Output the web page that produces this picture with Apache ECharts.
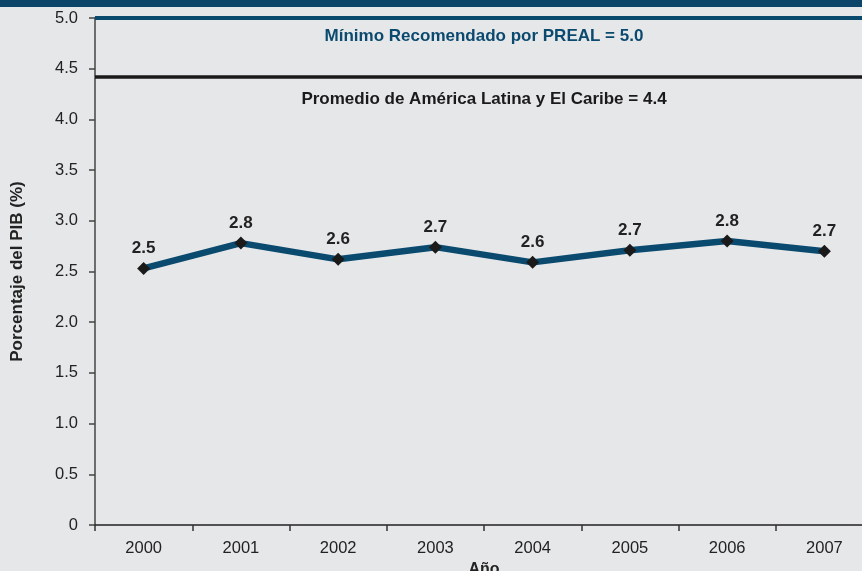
<!DOCTYPE html>
<html>
<head>
<meta charset="utf-8">
<script src="https://cdn.jsdelivr.net/npm/echarts@6/dist/echarts.min.js"></script>
<style>
  html, body { margin: 0; padding: 0; background: #e6e7e9; }
  #topbar { position: absolute; left: 0; top: 0; width: 862px; height: 7px; background: #0c4569; }
  #chart { width: 862px; height: 571px; }
</style>
</head>
<body>
<div id="chart"></div>
<div id="topbar"></div>
<script>
const years = ['2000', '2001', '2002', '2003', '2004', '2005', '2006', '2007']
const gastoPib = [2.53, 2.78, 2.62, 2.74, 2.59, 2.71, 2.8, 2.7]
const minimoPreal = 5.0
const promedioAlc = 4.42
const minimoLabel = 'Mínimo Recomendado por PREAL = 5.0'
const promedioLabel = 'Promedio de América Latina y El Caribe = 4.4'

const font = 'Liberation Sans, Arial, Helvetica, sans-serif'
const chart = echarts.init(document.getElementById('chart'), undefined, { renderer: 'canvas' })

chart.setOption({
  backgroundColor: '#e6e7e9',
  animation: false,
  textStyle: { fontFamily: font },
  grid: { left: 95, right: -11, top: 18, bottom: 46, outerBoundsMode: 'none', containLabel: false },
  xAxis: {
    type: 'category',
    data: years,
    boundaryGap: true,
    name: 'Año',
    nameLocation: 'middle',
    nameGap: 35,
    nameTextStyle: { color: '#222', fontSize: 16, fontWeight: 'bold', fontFamily: font },
    axisLine: { lineStyle: { color: '#222', width: 1.5 } },
    axisTick: { show: true, length: 6, lineStyle: { color: '#333', width: 1.5 } },
    axisLabel: { color: '#222', fontSize: 16.5, margin: 15, fontFamily: font },
  },
  yAxis: {
    type: 'value',
    min: 0,
    max: 5,
    interval: 0.5,
    name: 'Porcentaje del PIB (%)',
    nameLocation: 'middle',
    nameGap: 69,
    nameRotate: 90,
    nameTextStyle: { color: '#222', fontSize: 17, fontWeight: 'bold', fontFamily: font },
    axisLine: { show: true, lineStyle: { color: '#444', width: 1.5 } },
    axisTick: { show: true, length: 6, lineStyle: { color: '#444', width: 1.5 } },
    axisLabel: {
      color: '#222', fontSize: 16.5, margin: 17, fontFamily: font,
      formatter: (v) => (v === 0 ? '0' : v.toFixed(1)),
    },
    splitLine: { show: false },
  },
  series: [
    {
      type: 'line',
      data: gastoPib,
      symbol: 'diamond',
      symbolSize: 13,
      itemStyle: { color: '#1a1a1a' },
      lineStyle: { color: '#0b4a6f', width: 6.5 },
      label: {
        show: true,
        position: 'top',
        distance: 5,
        color: '#222',
        fontSize: 17,
        fontWeight: 'bold',
        fontFamily: font,
        formatter: (p) => p.value.toFixed(1),
      },
      markLine: {
        silent: true,
        symbol: 'none',
        data: [
          {
            yAxis: minimoPreal,
            lineStyle: { color: '#0b4a6f', width: 4, type: 'solid' },
            label: {
              formatter: minimoLabel,
              position: 'insideMiddleBottom',
              distance: 10,
              color: '#0b4a6f',
              fontSize: 17,
              fontWeight: 'bold',
              fontFamily: font,
            },
          },
          {
            yAxis: promedioAlc,
            lineStyle: { color: '#1a1a1a', width: 3.5, type: 'solid' },
            label: {
              formatter: promedioLabel,
              position: 'insideMiddleBottom',
              distance: 14,
              color: '#1a1a1a',
              fontSize: 17,
              fontWeight: 'bold',
              fontFamily: font,
            },
          },
        ],
      },
    },
  ],
})
</script>
</body>
</html>
